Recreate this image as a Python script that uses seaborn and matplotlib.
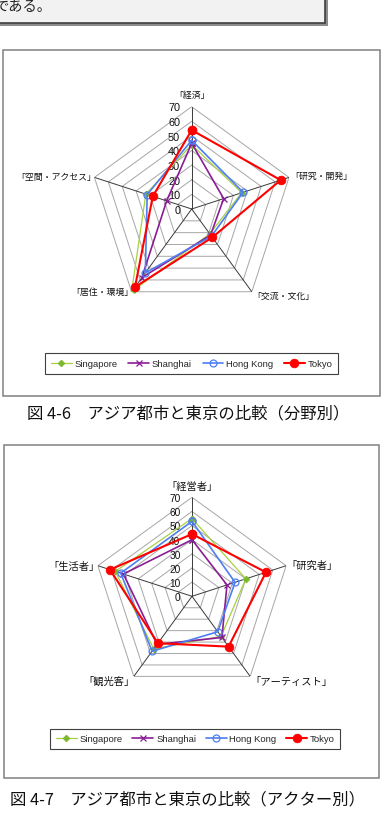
import numpy as np
import pandas as pd
import matplotlib
matplotlib.use("Agg")
import matplotlib.pyplot as plt
import seaborn as sns
from matplotlib.patches import Rectangle
from matplotlib.lines import Line2D

# ---------------- data ----------------
cities = ["Singapore", "Shanghai", "Hong Kong", "Tokyo"]

cats_field = ["「経済」", "「研究・開発」", "「交流・文化」", "「居住・環境」", "「空間・アクセス」"]
singapore_field = [44, 36, 21, 70, 33]
shanghai_field = [45, 23, 22, 58, 18]
hongkong_field = [47, 37, 23, 54, 32]
tokyo_field = [54, 64, 24, 66, 28]

cats_actor = ["「経営者」", "「研究者」", "「アーティスト」", "「観光客」", "「生活者」"]
singapore_actor = [55, 40, 35, 46, 57]
shanghai_actor = [40, 26, 36, 42, 51]
hongkong_actor = [53, 32, 31, 48, 53]
tokyo_actor = [44, 55, 44, 41, 61]

r_ticks = [0, 10, 20, 30, 40, 50, 60, 70]

caption_field = "図 4-6　アジア都市と東京の比較（分野別）"
caption_actor = "図 4-7　アジア都市と東京の比較（アクター別）"
intro_text = "である。"

# ---------------- style ----------------
sns.set_theme(style="white")
plt.rcParams["font.family"] = ["Noto Sans CJK JP", "DejaVu Sans"]

W, H = 381, 828
fig = plt.figure(figsize=(W / 100, H / 100), dpi=100)
fig.patch.set_facecolor("white")


def fx(x):
    return x / W


def fy(y):
    return 1 - y / H


styles = {
    "Singapore": dict(color="#a8d040", marker="D", markersize=3.4,
                      markerfacecolor="#7cb82f", markeredgecolor="#7cb82f",
                      markeredgewidth=0.6, linewidth=0.9),
    "Shanghai": dict(color="#8a1d96", marker="x", markersize=4.5,
                     markeredgecolor="#8a1d96", markeredgewidth=0.9, linewidth=1.2),
    "Hong Kong": dict(color="#4d7ef2", marker="o", markersize=5,
                      markerfacecolor="none", markeredgecolor="#4d7ef2",
                      markeredgewidth=0.9, linewidth=1.2),
    "Tokyo": dict(color="#ff0000", marker="o", markersize=6.2,
                  markerfacecolor="#ff0000", markeredgecolor="#ff0000",
                  markeredgewidth=0.6, linewidth=1.5),
}

PX = 0.72  # px -> points at dpi 100


def radar(cx, cy, R, cats, series, label_fs, tick_fs, offsets):
    ax = fig.add_axes([fx(cx - R), fy(cy + R), 2 * R / W, 2 * R / H], projection="polar")
    ax.set_zorder(2)
    ax.set_theta_offset(np.pi / 2)
    ax.set_theta_direction(-1)
    n = len(cats)
    theta = np.arange(n) * 2 * np.pi / n
    ring_t = np.append(theta, 2 * np.pi)
    for r in r_ticks[1:]:
        ax.plot(ring_t, [r] * (n + 1), color="#a6a6a6", lw=0.7, zorder=1)
    for t in theta:
        ax.plot([t, t], [0, r_ticks[-1]], color="#3a3a3a", lw=0.7, zorder=1)

    for i, (city, vals) in enumerate(series.items()):
        df = pd.DataFrame({"theta": ring_t, "value": list(vals) + [vals[0]]})
        sns.lineplot(data=df, x="theta", y="value", ax=ax, sort=False,
                     estimator=None, zorder=3 + i, **styles[city])

    ax.set_ylim(0, r_ticks[-1])
    ax.grid(False)
    ax.set_xticks([])
    ax.set_yticks([])
    ax.set_xlabel("")
    ax.set_ylabel("")
    ax.spines["polar"].set_visible(False)
    ax.patch.set_alpha(0)

    for r in r_ticks:
        ax.annotate(str(r), xy=(0, r), xytext=(-11.5 * PX, -0.8 * PX),
                    textcoords="offset points", ha="right", va="center",
                    fontsize=tick_fs, family=["Liberation Sans", "DejaVu Sans"],
                    color="#111111", annotation_clip=False, zorder=2)

    for t, cat, (dx, dy, ha) in zip(theta, cats, offsets):
        ax.annotate(cat, xy=(t, r_ticks[-1]), xytext=(dx * PX, dy * PX),
                    textcoords="offset points", ha=ha, va="center",
                    fontsize=label_fs, color="#111111", annotation_clip=False)
    return ax


def legend(x0, y0, x1, y1):
    handles = [Line2D([], [], **styles[c]) for c in cities]
    leg = fig.legend(handles, cities, loc="center",
                     bbox_to_anchor=(fx(x0), fy(y1), (x1 - x0) / W, (y1 - y0) / H),
                     mode="expand", ncol=4, frameon=True,
                     fancybox=False, edgecolor="#404040", framealpha=1,
                     handlelength=2.2, handletextpad=0.3, borderpad=0.6,
                     columnspacing=1.0,
                     prop={"family": ["Liberation Sans", "DejaVu Sans"], "size": 6.8})
    leg.get_frame().set_linewidth(0.8)
    leg.set_zorder(5)
    return leg


# ---------------- top text box ----------------
fig.patches.append(Rectangle((fx(-7), fy(27)), 335 / W, 40 / H, transform=fig.transFigure,
                             facecolor="#8c8c8c", edgecolor="none", zorder=-2))
fig.patches.append(Rectangle((fx(-10), fy(24)), 335 / W, 40 / H, transform=fig.transFigure,
                             facecolor="#f2f2f2", edgecolor="#404040", lw=1.2, zorder=-1))
fig.text(fx(-5.5), fy(6.5), intro_text, ha="left", va="center", fontsize=10.3, color="#222222")

# ---------------- frames ----------------
fig.patches.append(Rectangle((fx(3), fy(397)), 377 / W, 346 / H, transform=fig.transFigure,
                             facecolor="white", edgecolor="#808080", lw=1.1, zorder=-1))
fig.patches.append(Rectangle((fx(4), fy(779)), 375 / W, 333 / H, transform=fig.transFigure,
                             facecolor="white", edgecolor="#808080", lw=1.1, zorder=-1))

# ---------------- chart 1 ----------------
radar(191.7, 210, 102.3, cats_field,
      {"Singapore": singapore_field, "Shanghai": shanghai_field,
       "Hong Kong": hongkong_field, "Tokyo": tokyo_field},
      label_fs=6.4, tick_fs=7.8,
      offsets=[(0, 12.7, "center"), (1.0, 1.7, "left"), (0.0, -4, "left"),
               (2.0, 0, "right"), (2.0, 0.7, "right")])
legend(40.7, 355, 342.7, 374)
fig.text(fx(188), fy(414), caption_field, ha="center", va="center", fontsize=11.8, color="#111111")

# ---------------- chart 2 ----------------
radar(192, 597.3, 99, cats_actor,
      {"Singapore": singapore_actor, "Shanghai": shanghai_actor,
       "Hong Kong": hongkong_actor, "Tokyo": tokyo_actor},
      label_fs=7.4, tick_fs=7.3,
      offsets=[(0, 11.6, "center"), (0.0, 0.7, "left"), (0.0, -4.3, "left"),
               (1.0, -4.3, "right"), (2.0, 0, "right")])
legend(45.7, 730.7, 345, 749)
fig.text(fx(188), fy(800), caption_actor, ha="center", va="center", fontsize=11.8, color="#111111")

fig.savefig("out.png", dpi=100)
